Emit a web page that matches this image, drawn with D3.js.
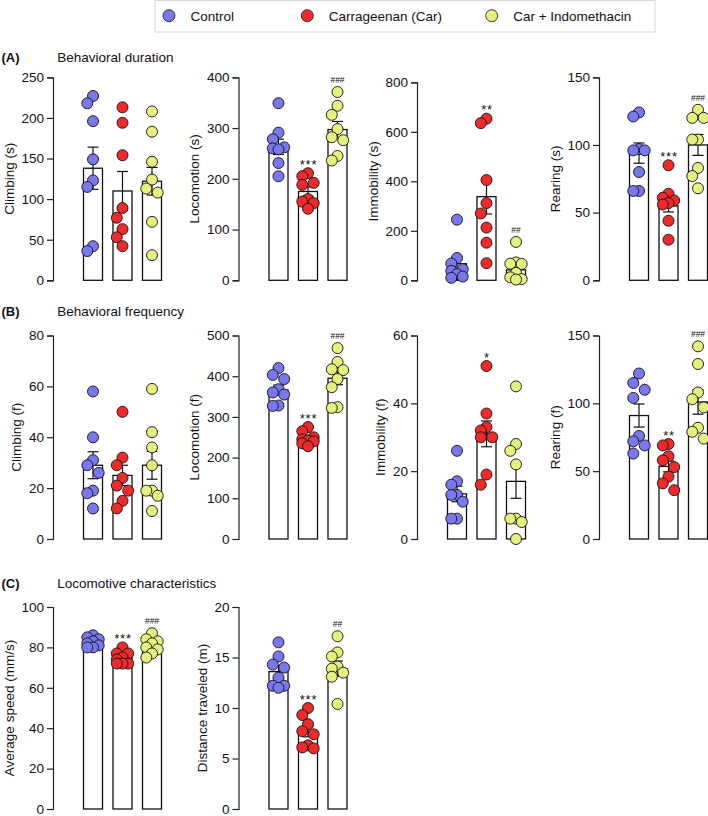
<!DOCTYPE html>
<html><head><meta charset="utf-8">
<script src="https://cdn.jsdelivr.net/npm/d3@7"></script>
<style>body{margin:0;background:#fff}svg text{font-family:"Liberation Sans",Arial,sans-serif;fill:#111}</style>
</head><body><svg id="c" width="708" height="816"></svg>
<script>
// ---------- data ----------
const groups = ["Control", "Carrageenan (Car)", "Car + Indomethacin"];
const groupColors = ["#7878ee", "#ee2a2a", "#e6f07c"];

const climbDur = [[227,218,196,149,123,115,42,36],[213,194,154,89,77,63,53,42],[208,183,146,124,113,108,72,31]];
const climbDurMean = [138,110,122], climbDurSem = [26,24,17];
const climbDurTicks = [0,50,100,150,200,250];

const locoDur = [[349,291,278,262,260,258,231,205],[211,205,192,188,160,155,152,141],[371,344,326,298,282,276,245,236]];
const locoDurMean = [263,175,297], locoDurSem = [15,9,16];
const locoDurTicks = [0,100,200,300,400];

const immoDur = [[245,90,68,45,38,25,15,10],[653,635,405,312,270,213,152,69],[155,72,67,66,30,12,5,3]];
const immoDurMean = [67,338,42], immoDurSem = [27,70,16];
const immoDurTicks = [0,200,400,600,800];

const rearDur = [[124,121,97,96,96,80,66,66],[85,64,61,59,57,56,44,30],[126,120,120,104,104,83,77,68]];
const rearDurMean = [94,55,100], rearDurSem = [7.5,4.5,7.7];
const rearDurTicks = [0,50,100,150];

const climbFreq = [[58,40,31,29,26,19,18,12],[50,32,29,24,21,19,15,12],[59,42,36,29,19,19,17,11]];
const climbFreqMean = [29,25,29], climbFreqSem = [5.3,4,5.5];
const climbFreqTicks = [0,20,40,60,80];

const locoFreq = [[420,403,393,368,360,355,328,327],[275,265,250,245,242,240,235,228],[469,435,417,415,393,373,324,322]];
const locoFreqMean = [366,248,395], locoFreqSem = [12,6,16];
const locoFreqTicks = [0,100,200,300,400,500];

const immoFreq = [[26,17,16,13,13,11,6,6],[51,37,33,32,30,30,19,16],[45,28,26,22,6,6,5,0]];
const immoFreqMean = [13.3,31,17], immoFreqSem = [2.3,3.8,5];
const immoFreqTicks = [0,20,40,60];

const rearFreq = [[122,115,110,104,76,72,69,63],[70,69,61,58,53,46,41,36],[142,129,108,103,97,82,79,74]];
const rearFreqMean = [91,53.5,101], rearFreqSem = [8.5,4,9];
const rearFreqTicks = [0,50,100,150];

const speed = [[86,85,84,83,82,81,80,80],[80,77,77,75,74,72,72,72],[87,84,83,82,80,79,77,75]];
const speedMean = [82.7,75,80.5], speedSem = [0.8,1,1.4];
const speedTicks = [0,20,40,60,80,100];

const distance = [[16.5,15.1,14.3,14.0,13.0,12.2,12.2,12.0],[10.0,9.3,8.4,7.7,7.4,6.3,6.1,6.0],[17.1,15.5,15.1,14.1,13.9,13.5,13.1,10.4]];
const distanceMean = [13.6,7.65,13.9], distanceSem = [0.6,0.5,0.75];
const distanceTicks = [0,5,10,15,20];

const sigNone = ["","",""];
const sigLocoDur = ["","***","###"], sigImmoDur = ["","**","##"], sigRearDur = ["","***","###"];
const sigLocoFreq = ["","***","###"], sigImmoFreq = ["","*",""], sigRearFreq = ["","**","###"];
const sigSpeed = ["","***","###"], sigDistance = ["","***","##"];

const sectionTitles = [["(A)","Behavioral duration"],["(B)","Behavioral frequency"],["(C)","Locomotive characteristics"]];

// ---------- layout ----------
const colX = [53, 238.5, 417, 599];
const rowTop = [77.3, 335.5, 607], rowBot = [280.3, 539, 809];
const titleBase = [62, 316, 588];

const panels = [
  {d:climbDur,m:climbDurMean,s:climbDurSem,t:climbDurTicks,lab:"Climbing (s)",sig:sigNone,r:0,c:0},
  {d:locoDur,m:locoDurMean,s:locoDurSem,t:locoDurTicks,lab:"Locomotion (s)",sig:sigLocoDur,r:0,c:1},
  {d:immoDur,m:immoDurMean,s:immoDurSem,t:immoDurTicks,lab:"Immobility (s)",sig:sigImmoDur,r:0,c:2,top:82.3},
  {d:rearDur,m:rearDurMean,s:rearDurSem,t:rearDurTicks,lab:"Rearing (s)",sig:sigRearDur,r:0,c:3},
  {d:climbFreq,m:climbFreqMean,s:climbFreqSem,t:climbFreqTicks,lab:"Climbing (f)",sig:sigNone,r:1,c:0},
  {d:locoFreq,m:locoFreqMean,s:locoFreqSem,t:locoFreqTicks,lab:"Locomotion (f)",sig:sigLocoFreq,r:1,c:1},
  {d:immoFreq,m:immoFreqMean,s:immoFreqSem,t:immoFreqTicks,lab:"Immobility (f)",sig:sigImmoFreq,r:1,c:2},
  {d:rearFreq,m:rearFreqMean,s:rearFreqSem,t:rearFreqTicks,lab:"Rearing (f)",sig:sigRearFreq,r:1,c:3},
  {d:speed,m:speedMean,s:speedSem,t:speedTicks,lab:"Average speed (mm/s)",sig:sigSpeed,r:2,c:0},
  {d:distance,m:distanceMean,s:distanceSem,t:distanceTicks,lab:"Distance traveled (m)",sig:sigDistance,r:2,c:1},
];

const svg = d3.select("#c");
const R = 5.5;

// legend
const legX = [169, 307.3, 491.7];
const lg = svg.append("g");
lg.append("rect").attr("x",155).attr("y",0.5).attr("width",500).attr("height",31.5)
  .attr("fill","none").attr("stroke","#d6d6d6").attr("stroke-width",1);
groups.forEach((g,i)=>{
  lg.append("circle").attr("cx",legX[i]).attr("cy",15.7).attr("r",6)
    .attr("fill",groupColors[i]).attr("stroke","#222").attr("stroke-width",0.9);
  lg.append("text").attr("x",legX[i]+21.5).attr("y",20.5).attr("font-size",13.5).text(g);
});

// section titles
sectionTitles.forEach((t,i)=>{
  svg.append("text").attr("x",1.5).attr("y",titleBase[i]).attr("font-size",13).attr("font-weight","bold").text(t[0]);
  svg.append("text").attr("x",57.3).attr("y",titleBase[i]).attr("font-size",13.5).text(t[1]);
});

// GraphPad-like scatter: three columns (centre, left, right), overlap allowed when crowded
function swarmX(ys, d){
  const s = 5.7;
  const offs = [0, -s, s];
  const idx = d3.range(ys.length).sort((a,b)=>ys[a]-ys[b]);
  const xs = new Array(ys.length);
  const placed = [];
  for (const i of idx){
    const y = ys[i];
    let best = null, bestD = -1;
    for (const c of offs){
      const md = placed.length ? d3.min(placed, p=>Math.hypot(c-p.x, y-p.y)) : Infinity;
      if (md >= d*0.95){ best = c; bestD = md; break; }
      if (md > bestD + 0.5){ bestD = md; best = c; }
    }
    xs[i]=best; placed.push({x:best,y});
  }
  return xs;
}

panels.forEach(p=>{
  const ax = colX[p.c];
  const top = p.top || rowTop[p.r], bot = rowBot[p.r];
  const y = d3.scaleLinear().domain([0, d3.max(p.t)]).range([bot, top]);
  const x = d3.scalePoint().domain(groups).range([ax+40, ax+99]);
  const g = svg.append("g");

  const axis = g.append("g").attr("transform",`translate(${ax},0)`)
    .call(d3.axisLeft(y).tickValues(p.t).tickSize(6).tickPadding(3).tickFormat(d3.format("d")));
  axis.select(".domain").attr("stroke","#222").attr("stroke-width",1.2);
  axis.selectAll(".tick line").attr("stroke","#222").attr("stroke-width",1.2);
  axis.selectAll(".tick text").attr("font-size",13.5).attr("font-family","Liberation Sans, Arial, sans-serif").attr("fill","#111");
  let maxW = 0;
  axis.selectAll(".tick text").each(function(){ maxW = Math.max(maxW, this.getComputedTextLength()); });
  const tx = ax - 9 - maxW - 12;
  g.append("text").attr("transform",`translate(${tx},${(top+bot)/2}) rotate(-90)`)
    .attr("text-anchor","middle").attr("dy","0.3em").attr("font-size",13.5).text(p.lab);

  const BW = 19;
  groups.forEach((gr,i)=>{
    const cx = x(gr);
    g.append("rect").attr("x",cx-BW/2).attr("y",y(p.m[i])).attr("width",BW).attr("height",bot-y(p.m[i]))
      .attr("fill","#fff").attr("stroke","#111").attr("stroke-width",1.3);
    const lo = y(p.m[i]-p.s[i]), hi = y(p.m[i]+p.s[i]);
    g.append("line").attr("x1",cx).attr("x2",cx).attr("y1",lo).attr("y2",hi).attr("stroke","#111").attr("stroke-width",1.2);
    [lo,hi].forEach(v=>g.append("line").attr("x1",cx-5.5).attr("x2",cx+5.5).attr("y1",v).attr("y2",v).attr("stroke","#111").attr("stroke-width",1.2));
  });
  groups.forEach((gr,i)=>{
    const cx = x(gr);
    const ys = p.d[i].map(v=>y(v));
    const xs = swarmX(ys, 2*R);
    g.selectAll(null).data(p.d[i]).join("circle")
      .attr("cx",(v,k)=>cx+xs[k]).attr("cy",v=>y(v)).attr("r",R)
      .attr("fill",groupColors[i]).attr("stroke","#111").attr("stroke-width",0.9);
    const s = p.sig[i];
    if (s){
      const tp = Math.min(y(d3.max(p.d[i])), y(p.m[i]+p.s[i]));
      const c = tp - 12;
      if (s[0]==="*"){
        g.append("text").attr("x",cx+0.5).attr("y",c+7.5).attr("text-anchor","middle")
          .attr("font-size",13).attr("letter-spacing","0.8px").attr("fill","#222").text(s);
      } else {
        g.append("text").attr("x",cx).attr("y",c+3).attr("text-anchor","middle")
          .attr("font-size",8.5).attr("fill","#333").text(s);
      }
    }
  });
});
</script></body></html>
